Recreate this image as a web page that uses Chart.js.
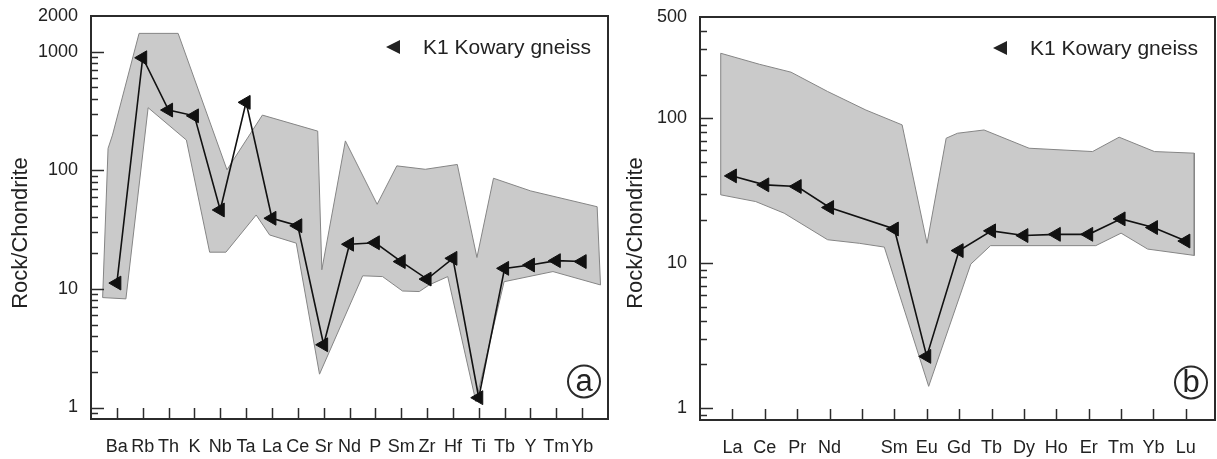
<!DOCTYPE html>
<html>
<head>
<meta charset="utf-8">
<script src="https://cdn.jsdelivr.net/npm/chart.js@4.4.0/dist/chart.umd.min.js"></script>
<style>
  body { margin: 0; background: #fff; }
  .panel { position: absolute; top: 0; }
</style>
</head>
<body>
<canvas id="chartA" class="panel" width="614" height="459" style="left:0"></canvas>
<canvas id="chartB" class="panel" width="603" height="459" style="left:614px"></canvas>
<script>
// Panel a: multi-element diagram
const spiderElements = ["Ba", "Rb", "Th", "K", "Nb", "Ta", "La", "Ce", "Sr", "Nd", "P", "Sm", "Zr", "Hf", "Ti", "Tb", "Y", "Tm", "Yb"]
const spiderK1 = [11.2, 889, 322, 288, 46.3, 374, 39.4, 34.1, 3.38, 23.8, 24.5, 17.0, 12.1, 18.1, 1.21, 14.9, 15.9, 17.3, 17.0]
// outline of the shaded field (position on the element axis, value)
const spiderFieldX = [-0.55, -0.34, -0.17, 0.86, 2.37, 4.26, 5.63, 7.77, 7.93, 8.84, 10.07, 10.83, 11.93, 13.17, 13.93, 14.57, 16.01, 18.58, 18.71,
  16.87, 14.98, 13.89, 12.80, 12.08, 11.70, 11.05, 10.28, 9.51, 7.84, 6.94, 5.91, 5.39, 4.22, 3.59, 2.69, 1.21, 0.35]
const spiderFieldY = [8.45, 153, 198, 1427, 1427, 101, 292, 214, 14.5, 177, 51.7, 109, 102, 112, 18.4, 85.7, 67, 49.3, 10.8,
  14.0, 11.5, 1.12, 12.7, 10.8, 9.5, 9.6, 12.7, 12.9, 1.91, 24.3, 28.5, 42, 20.4, 20.4, 180, 337, 8.24]
const spiderTicks = [1, 10, 100, 1000, 2000]

// Panel b: rare earth elements (Pm left blank)
const reeElements = ["La", "Ce", "Pr", "Nd", "", "Sm", "Eu", "Gd", "Tb", "Dy", "Ho", "Er", "Tm", "Yb", "Lu"]
const reeK1 = [40.0, 34.7, 33.8, 24.2, null, 17.2, 2.27, 12.2, 16.7, 15.5, 15.8, 15.8, 20.2, 17.6, 14.2]
const reeFieldX = [-0.36, 0.83, 1.81, 2.94, 4.12, 5.24, 6.01, 6.60, 6.95, 7.77, 9.16, 11.12, 11.94, 13.03, 14.26, 14.26,
  12.82, 12.0, 11.22, 7.97, 7.36, 6.06, 4.69, 3.92, 2.94, 1.60, 0.72, -0.36]
const reeFieldY = [281, 236, 208, 153, 114, 90, 13.7, 72.8, 78.8, 83, 62.1, 58.9, 74, 58.9, 57.4, 11.3,
  12.5, 16.1, 13.2, 13.2, 9.84, 1.41, 12.9, 13.7, 14.5, 22.1, 26.6, 29.6]
const reeTicks = [1, 10, 100, 500]

const FONT = "'Liberation Sans', Arial, sans-serif"
const INK = "#222"
Chart.defaults.font.family = FONT
Chart.defaults.color = INK

// frame, inward ticks, legend, axis title and panel letter
const decorPlugin = {
  id: "decor",
  afterDatasetsDraw(chart, args, opts) {
    const ctx = chart.ctx
    const area = chart.chartArea
    const xs = chart.scales.x
    const ys = chart.scales.y
    ctx.save()
    ctx.strokeStyle = "#2b2b2b"
    ctx.fillStyle = INK
    ctx.lineWidth = 1.5

    // y ticks, long ones at decades
    for (let d = -1; d <= 3; d++) {
      for (let m = 1; m <= 9; m++) {
        const v = m * Math.pow(10, d)
        if (v <= ys.min * 1.001 || v >= ys.max * 0.999) continue
        const y = Math.round(ys.getPixelForValue(v)) + 0.5
        ctx.beginPath()
        ctx.moveTo(area.left, y)
        ctx.lineTo(area.left + (m === 1 ? 13 : 7), y)
        ctx.stroke()
      }
    }

    // x ticks
    xs.ticks.forEach((t) => {
      const x = Math.round(xs.getPixelForValue(t.value)) + 0.5
      ctx.beginPath()
      ctx.moveTo(x, area.bottom)
      ctx.lineTo(x, area.bottom - 11)
      ctx.stroke()
    })

    // plot frame
    ctx.lineWidth = 2
    ctx.strokeRect(area.left, area.top, area.right - area.left, area.bottom - area.top)

    // legend
    const lx = area.right - 214
    const ly = area.top + 31
    ctx.beginPath()
    ctx.moveTo(lx - 8, ly)
    ctx.lineTo(lx + 6, ly - 7)
    ctx.lineTo(lx + 6, ly + 7)
    ctx.closePath()
    ctx.fill()
    ctx.font = "21px " + FONT
    ctx.textAlign = "left"
    ctx.textBaseline = "alphabetic"
    ctx.fillText(opts.legend, area.right - 185, area.top + 38)

    // circled panel letter
    const cx = area.right - 24
    const cy = area.bottom - 37.5
    ctx.lineWidth = 2
    ctx.beginPath()
    ctx.arc(cx, cy, 16, 0, Math.PI * 2)
    ctx.stroke()
    ctx.font = "31px " + FONT
    ctx.textAlign = "center"
    ctx.textBaseline = "middle"
    ctx.fillText(opts.letter, cx, cy + 1)

    // axis title
    ctx.translate(opts.titleX, 233)
    ctx.rotate(-Math.PI / 2)
    ctx.font = "22px " + FONT
    ctx.fillText("Rock/Chondrite", 0, 0)
    ctx.restore()
  }
}

function makePanel(id, cfg) {
  const k1 = []
  cfg.values.forEach((v, i) => {
    if (v !== null) k1.push({ x: i, y: v })
  })
  const field = cfg.fieldX.map((x, i) => ({ x: x, y: cfg.fieldY[i] }))
  field.push(field[0])

  return new Chart(document.getElementById(id), {
    type: "line",
    data: {
      datasets: [
        {
          label: "K1 Kowary gneiss",
          data: k1,
          borderColor: "#111",
          borderWidth: 1.6,
          pointStyle: "triangle",
          pointRotation: -90,
          pointRadius: 8,
          pointBackgroundColor: "#111",
          pointBorderColor: "#111",
          pointBorderWidth: 1,
          fill: false,
          tension: 0,
        },
        {
          label: "field",
          data: field,
          borderColor: "#858585",
          borderWidth: 1,
          backgroundColor: "#cacaca",
          fill: "shape",
          pointRadius: 0,
          tension: 0,
        },
      ],
    },
    options: {
      responsive: false,
      animation: false,
      layout: { autoPadding: false, padding: { top: cfg.padTop, right: cfg.padRight, left: 0, bottom: 0 } },
      plugins: {
        legend: { display: false },
        tooltip: { enabled: false },
        decor: { letter: cfg.letter, legend: "K1 Kowary gneiss", titleX: cfg.titleX },
      },
      scales: {
        x: {
          type: "linear",
          bounds: "data",
          min: -1,
          max: cfg.xMax,
          afterBuildTicks: (s) => {
            s.ticks = cfg.labels.map((l, i) => ({ value: i }))
          },
          afterFit: (s) => {
            s.height = cfg.xHeight
          },
          grid: { display: false, drawTicks: false },
          border: { display: false },
          ticks: {
            autoSkip: false,
            maxRotation: 0,
            padding: 17,
            font: { size: 18 },
            callback: (v) => cfg.labels[v] || "",
          },
        },
        y: {
          type: "logarithmic",
          bounds: "data",
          min: cfg.yMin,
          max: cfg.yMax,
          afterBuildTicks: (s) => {
            s.ticks = cfg.yTicks.map((v) => ({ value: v }))
          },
          afterFit: (s) => {
            s.width = cfg.yWidth
          },
          // invisible tick marks keep the labels off the axis without extra top padding
          grid: { display: true, drawOnChartArea: false, drawTicks: true, tickLength: 13, tickColor: "rgba(0,0,0,0)" },
          border: { display: false },
          ticks: {
            autoSkip: false,
            padding: 0,
            font: { size: 18 },
            callback: (v) => String(v),
          },
        },
      },
    },
    plugins: [decorPlugin],
  })
}

makePanel("chartA", {
  labels: spiderElements, values: spiderK1, fieldX: spiderFieldX, fieldY: spiderFieldY,
  yTicks: spiderTicks, yMin: 0.8, yMax: 2000, xMax: 19,
  yWidth: 91, xHeight: 40, padTop: 16, padRight: 6, letter: "a", titleX: 21,
})

makePanel("chartB", {
  labels: reeElements, values: reeK1, fieldX: reeFieldX, fieldY: reeFieldY,
  yTicks: reeTicks, yMin: 0.826, yMax: 500, xMax: 14.9,
  yWidth: 86, xHeight: 39, padTop: 17, padRight: 2, letter: "b", titleX: 22,
})
</script>
</body>
</html>
